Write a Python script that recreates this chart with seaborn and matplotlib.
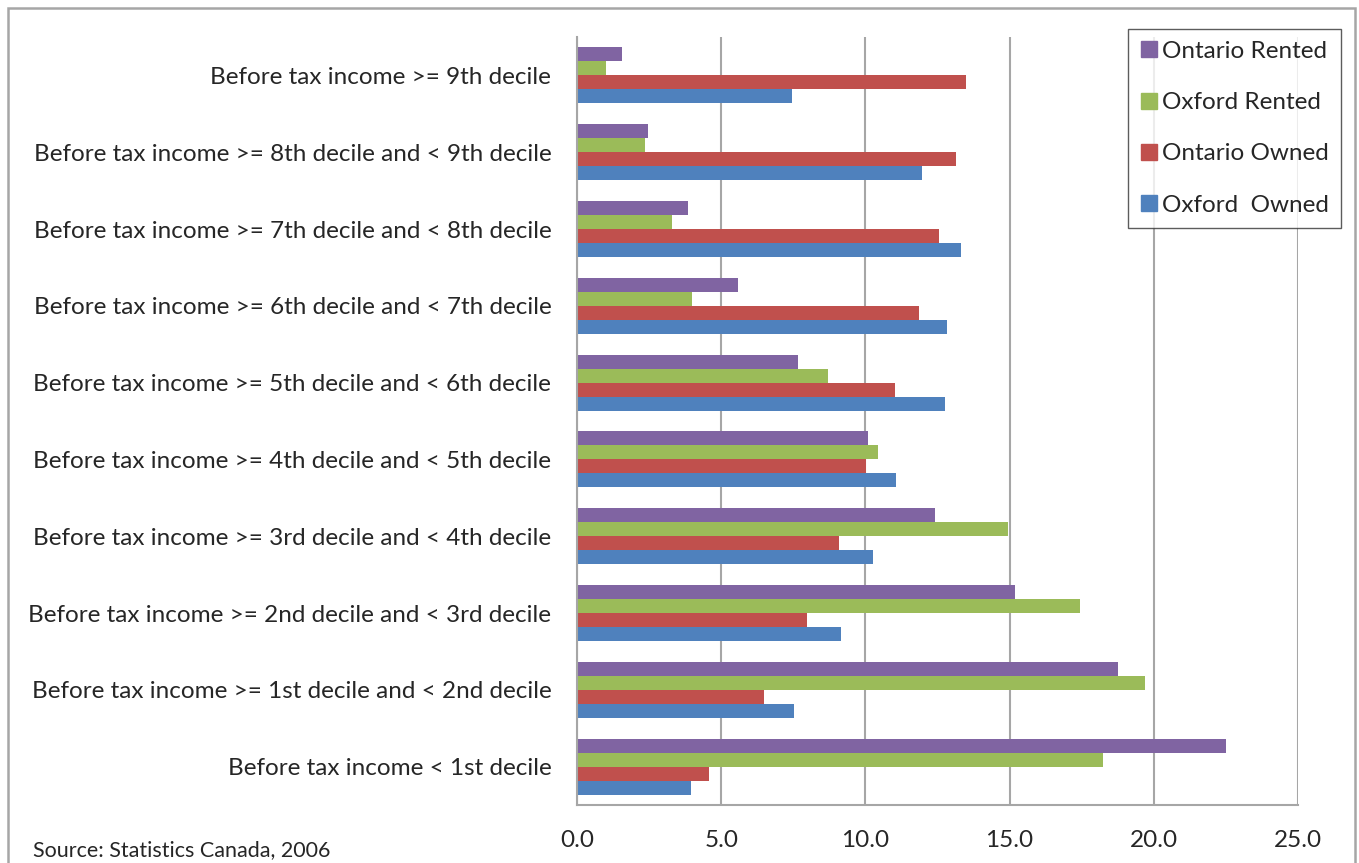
import matplotlib
matplotlib.use("Agg")
import matplotlib.pyplot as plt
import seaborn as sns
import pandas as pd
import numpy as np
from matplotlib.patches import Rectangle
from matplotlib.lines import Line2D

categories = [
    "Before tax income >= 9th decile",
    "Before tax income >= 8th decile and < 9th decile",
    "Before tax income >= 7th decile and < 8th decile",
    "Before tax income >= 6th decile and < 7th decile",
    "Before tax income >= 5th decile and < 6th decile",
    "Before tax income >= 4th decile and < 5th decile",
    "Before tax income >= 3rd decile and < 4th decile",
    "Before tax income >= 2nd decile and < 3rd decile",
    "Before tax income >= 1st decile and < 2nd decile",
    "Before tax income < 1st decile",
]
series_names = ["Ontario Rented", "Oxford Rented", "Ontario Owned", "Oxford  Owned"]
ontario_rented = [1.55, 2.46, 3.85, 5.59, 7.66, 10.10, 12.42, 15.17, 18.76, 22.51]
oxford_rented = [0.99, 2.35, 3.31, 3.99, 8.69, 10.42, 14.95, 17.43, 19.71, 18.25]
ontario_owned = [13.48, 13.14, 12.56, 11.86, 11.03, 10.03, 9.08, 7.96, 6.49, 4.58]
oxford_owned = [7.44, 11.96, 13.31, 12.82, 12.76, 11.06, 10.27, 9.14, 7.51, 3.94]
x_ticks = [0, 5, 10, 15, 20, 25]
x_tick_labels = ["0.0", "5.0", "10.0", "15.0", "20.0", "25.0"]
colors = ["#8064A2", "#9BBB59", "#C0504D", "#4F81BD"]

rows = []
for name, vals in zip(series_names, [ontario_rented, oxford_rented, ontario_owned, oxford_owned]):
    for c, v in zip(categories, vals):
        rows.append({"category": c, "series": name, "value": v})
df = pd.DataFrame(rows)

sns.set_style("white")
plt.rcParams["font.family"] = ["Lato", "DejaVu Sans"]

W, H = 1359, 863
fig = plt.figure(figsize=(W / 100, H / 100), dpi=100)
ax = fig.add_axes([577 / W, 1 - 805 / H, (1298 - 577) / W, (805 - 37) / H])

sns.barplot(data=df, y="category", x="value", hue="series", order=categories,
            hue_order=series_names, palette=colors, orient="h", width=0.73,
            linewidth=0, saturation=1, ax=ax, legend=False, errorbar=None)

grid_c = "#A6A6A6"
ax.set_xlim(0, 25)
ax.set_ylim(len(categories) - 0.5, -0.5)
ax.set_xticks(x_ticks)
ax.set_xticklabels(x_tick_labels, fontsize=17.5)
ax.set_yticks(range(len(categories)))
ax.set_yticklabels(categories, fontsize=17.5)
ax.set_yticks(np.arange(-0.5, len(categories), 1.0), minor=True)
ax.tick_params(axis="y", which="major", length=0, pad=18.5)
ax.tick_params(axis="y", which="minor", length=7, width=1.5, color=grid_c, direction="out")
ax.tick_params(axis="x", which="major", length=7, width=1.5, color=grid_c, direction="out", pad=11)
ax.set_xlabel("")
ax.set_ylabel("")
ax.set_axisbelow(True)
ax.xaxis.grid(True, color=grid_c, linewidth=1.5)
ax.yaxis.grid(False)
for s in ["top", "right"]:
    ax.spines[s].set_visible(False)
for s in ["left", "bottom"]:
    ax.spines[s].set_color(grid_c)
    ax.spines[s].set_linewidth(1.5)

handles = [Line2D([0], [0], marker="s", linestyle="none", markersize=11,
                  markerfacecolor=c, markeredgecolor=c) for c in colors]
leg = fig.legend(handles, series_names, loc="upper left",
                 bbox_to_anchor=(1128 / W, 1 - 28.5 / H), fontsize=17.5,
                 frameon=True, fancybox=False, edgecolor="#333333",
                 labelspacing=1.25, handlelength=0.7, handletextpad=0.2,
                 borderpad=0.5, borderaxespad=0)
leg.get_frame().set_linewidth(1.0)

fig.add_artist(Rectangle((8 / W, -0.05), (1355 - 8) / W, 1 - 8 / H + 0.05,
                         transform=fig.transFigure, fill=False,
                         edgecolor="#A6A6A6", linewidth=1.8))
fig.text(33 / W, 1 - 856 / H, "Source: Statistics Canada, 2006", fontsize=15.5,
         ha="left", va="baseline")

fig.savefig("out.png", dpi=100)
